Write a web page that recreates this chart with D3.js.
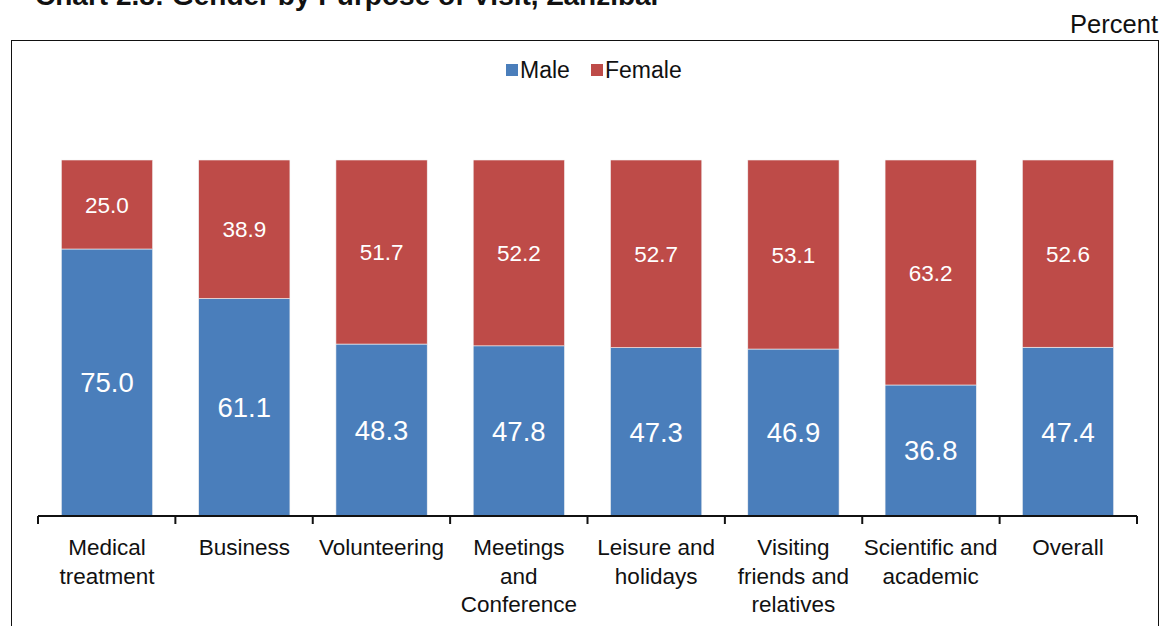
<!DOCTYPE html>
<html>
<head>
<meta charset="utf-8">
<script src="https://cdn.jsdelivr.net/npm/d3@7"></script>
<style>
  body { margin: 0; background: #fff; }
  text { font-family: "Liberation Sans", Arial, sans-serif; }
</style>
</head>
<body>
<div id="chart"></div>
<script>
// data
var categories = ["Medical\ntreatment", "Business", "Volunteering", "Meetings\nand\nConference",
  "Leisure and\nholidays", "Visiting\nfriends and\nrelatives", "Scientific and\nacademic", "Overall"];
var maleValues = [75.0, 61.1, 48.3, 47.8, 47.3, 46.9, 36.8, 47.4];
var femaleValues = [25.0, 38.9, 51.7, 52.2, 52.7, 53.1, 63.2, 52.6];
var seriesNames = ["Male", "Female"];
var colors = ["#4a7ebb", "#be4b48"];

var W = 1163, H = 626;
var margin = { top: 160, right: 26, bottom: 110, left: 38 },
    width = W - margin.left - margin.right,
    height = H - margin.top - margin.bottom;

const svg = d3.select("#chart").append("svg")
    .attr("width", W)
    .attr("height", H);

// title (cut off at top of the picture, as in the original)
svg.append("text")
    .attr("x", 35).attr("y", 5)
    .attr("font-size", 28).attr("font-weight", "bold")
    .attr("fill", "#111")
    .text("Chart 2.8: Gender by Purpose of Visit, Zanzibar");

svg.append("text")
    .attr("x", 1158).attr("y", 33)
    .attr("text-anchor", "end")
    .attr("font-size", 25.5).attr("fill", "#111")
    .text("Percent");

// frame
svg.append("rect")
    .attr("x", 11.5).attr("y", 40.5)
    .attr("width", 1147).attr("height", 620)
    .attr("fill", "none").attr("stroke", "#111").attr("stroke-width", 1);

const g = svg.append("g")
    .attr("transform", "translate(" + margin.left + "," + margin.top + ")");

var x = d3.scaleBand()
    .domain(d3.range(categories.length))
    .range([0, width])
    .paddingInner(0.335)
    .paddingOuter(0.17);

var y = d3.scaleLinear()
    .domain([0, 100])
    .range([height, 0]);

var rows = categories.map(function (c, i) {
    return { i: i, Male: maleValues[i], Female: femaleValues[i] };
});
var stacked = d3.stack().keys(seriesNames)(rows);

stacked.forEach(function (layer, k) {
    var lg = g.append("g");
    lg.selectAll("rect")
        .data(layer)
        .enter()
        .append("rect")
        .attr("x", function (d) { return x(d.data.i); })
        .attr("y", function (d) { return y(d[1]); })
        .attr("width", x.bandwidth())
        .attr("height", function (d) { return y(d[0]) - y(d[1]); })
        .attr("fill", colors[k])
        .attr("stroke", "#f4f4f4").attr("stroke-width", 0.6);

    lg.selectAll("text")
        .data(layer)
        .enter()
        .append("text")
        .attr("x", function (d) { return x(d.data.i) + x.bandwidth() / 2; })
        .attr("y", function (d) { return (y(d[0]) + y(d[1])) / 2; })
        .attr("dy", "0.36em")
        .attr("text-anchor", "middle")
        .attr("fill", "#fff")
        .attr("font-size", k === 0 ? 27.5 : 22.5)
        .text(function (d) { return (d[1] - d[0]).toFixed(1); });
});

// x axis with ticks on category boundaries
var step = width / categories.length;
var axis = g.append("g").attr("transform", "translate(0," + height + ")");
axis.append("line")
    .attr("x1", 0).attr("x2", width)
    .attr("stroke", "#111").attr("stroke-width", 2);
axis.selectAll("line.tick")
    .data(d3.range(categories.length + 1))
    .enter()
    .append("line")
    .attr("class", "tick")
    .attr("x1", function (d) { return d * step; })
    .attr("x2", function (d) { return d * step; })
    .attr("y1", 0).attr("y2", 8)
    .attr("stroke", "#111").attr("stroke-width", 2);

axis.selectAll("text.cat")
    .data(categories)
    .enter()
    .append("text")
    .attr("class", "cat")
    .attr("text-anchor", "middle")
    .attr("font-size", 22.5)
    .attr("fill", "#111")
    .each(function (d, i) {
        var t = d3.select(this);
        d.split("\n").forEach(function (line, j) {
            t.append("tspan")
                .attr("x", x(i) + x.bandwidth() / 2)
                .attr("y", 39 + j * 28.5)
                .text(line);
        });
    });

// legend
var legend = svg.append("g").attr("transform", "translate(500,70)");
var legX = [0, 85];
seriesNames.forEach(function (s, k) {
    legend.append("rect")
        .attr("x", legX[k] + 6).attr("y", -6)
        .attr("width", 12).attr("height", 12)
        .attr("fill", colors[k]);
    legend.append("text")
        .attr("x", legX[k] + 20).attr("y", 0)
        .attr("dy", "0.36em")
        .attr("font-size", 23).attr("fill", "#111")
        .text(s);
});
</script>
</body>
</html>
